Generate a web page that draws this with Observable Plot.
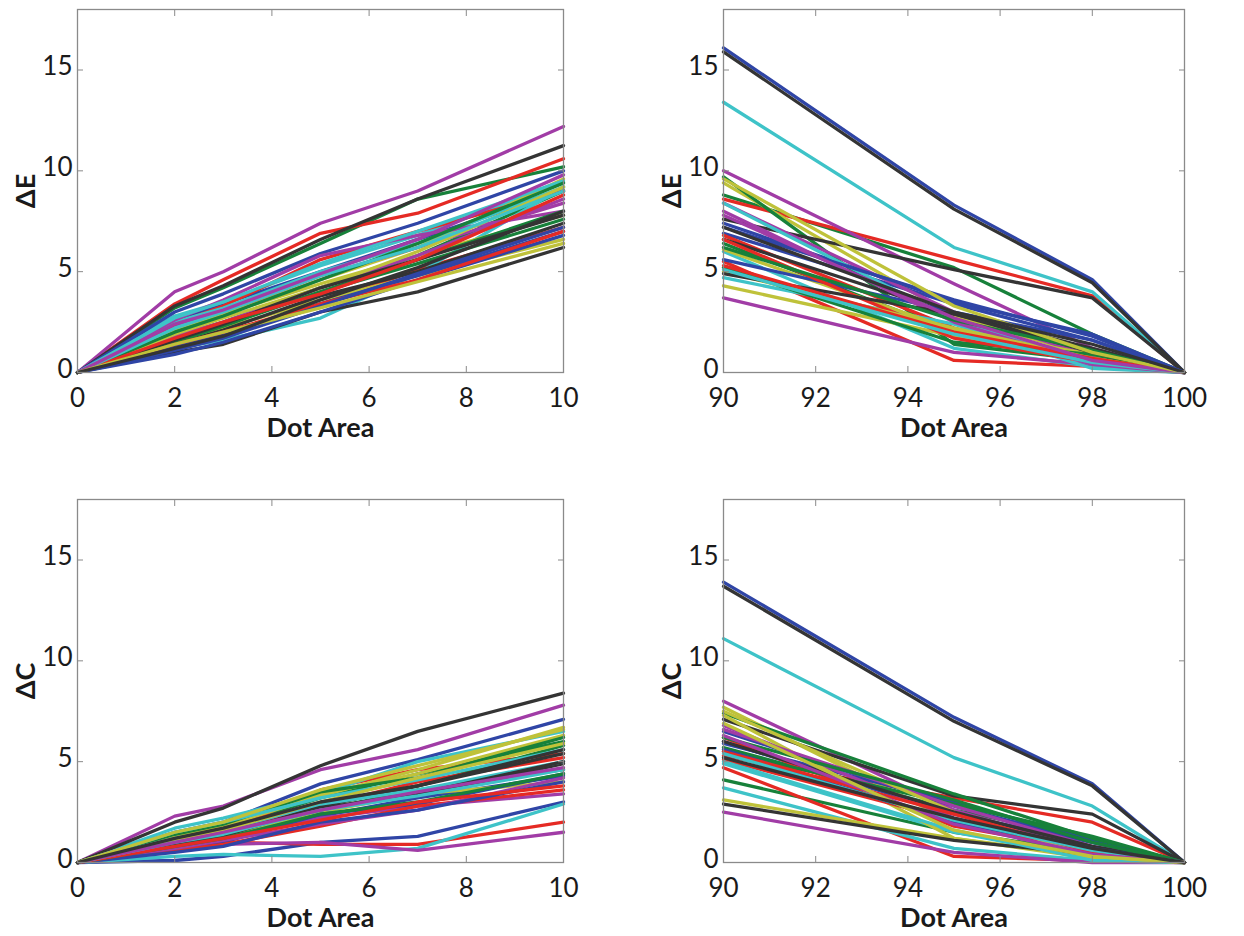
<!DOCTYPE html>
<html><head><meta charset="utf-8">
<script src="https://cdn.jsdelivr.net/npm/d3@7"></script>
<script src="https://cdn.jsdelivr.net/npm/@observablehq/plot@0.6"></script>
<style>
body{margin:0;background:#fff;}
#wrap{position:relative;width:1244px;height:936px;background:#fff;}
.panel{position:absolute;}
g[aria-label="x-axis label"], g[aria-label="y-axis label"]{font-weight:bold;font-size:27px;}
</style>
</head><body><div id="wrap"></div>
<script>
// ---- data ----
const xLow = [0, 2, 3, 5, 7, 10];
const xHigh = [90, 95, 98, 100];
const xTicksLow = [0, 2, 4, 6, 8, 10];
const xTicksHigh = [90, 92, 94, 96, 98, 100];
const yTicks = [0, 5, 10, 15];
const palette = ["#2f45a6", "#17813a", "#e52a24", "#3ec3c8", "#a13ca6", "#bfc23a", "#343434"];

const dELow = [
  [0,2.6,3.4,5.0,6.6,9.0],[0,3.2,4.2,6.4,8.6,10.2],[0,3.4,4.6,6.9,7.9,10.6],[0,2.8,3.5,5.3,6.8,9.4],
  [0,4.0,5.0,7.4,9.0,12.2],[0,2.2,2.9,4.6,6.2,9.6],[0,3.3,4.3,6.6,8.6,11.25],[0,3.0,3.9,5.9,7.4,10.0],
  [0,1.8,2.5,4.2,5.8,9.0],[0,1.9,1.9,3.4,5.1,7.2],[0,1.2,1.6,2.7,4.9,9.2],[0,2.3,3.0,4.8,6.2,8.4],
  [0,1.6,2.2,3.6,4.8,6.6],[0,1.0,1.4,3.0,4.0,6.2],[0,0.9,1.5,3.0,4.6,6.8],[0,1.6,2.4,4.0,5.4,7.6],
  [0,2.4,3.3,5.6,7.0,9.0],[0,2.5,3.2,5.0,6.4,9.2],[0,2.6,3.6,5.8,6.8,8.0],[0,2.1,2.9,4.4,5.8,7.8],
  [0,1.4,2.1,3.8,5.0,7.4],[0,1.3,1.9,3.4,4.8,7.0],[0,1.5,2.3,4.0,5.6,8.0],[0,1.4,2.0,3.4,4.6,7.0],
  [0,2.7,3.5,5.4,7.0,9.5],[0,1.8,2.5,4.2,5.8,8.6],[0,1.9,2.7,4.2,6.0,9.2],[0,1.6,2.4,4.2,5.6,7.8],
  [0,1.1,1.7,3.3,4.9,7.2],[0,2.0,2.8,4.6,6.4,9.4],[0,1.7,2.5,3.9,5.6,8.8],[0,2.2,3.0,4.8,6.2,9.0],
  [0,2.4,3.1,4.9,6.6,9.8],[0,1.4,2.0,3.2,4.5,6.4],[0,1.2,1.8,3.6,5.2,8.0]
];
const dEHigh = [
  [16.1,8.3,4.6,0],[8.8,5.2,1.9,0],[8.6,5.6,3.8,0],[13.4,6.2,4.0,0],[10.0,4.4,1.2,0],[9.4,2.8,0.8,0],
  [15.9,8.1,4.45,0],[7.4,3.5,1.9,0],[9.7,1.4,0.6,0],[5.5,0.6,0.3,0],[6.0,1.2,0.3,0],[3.7,1.0,0.4,0],
  [4.3,1.8,0.6,0],[7.6,5.1,3.7,0],[6.9,3.4,1.6,0],[6.4,2.0,0.9,0],[6.8,2.2,0.5,0],[4.7,2.4,0.2,0],
  [8.4,3.0,0.8,0],[6.1,2.1,0.9,0],[6.6,2.9,1.2,0],[5.6,3.0,1.6,0],[5.2,1.5,0.9,0],[6.6,1.7,0.5,0],
  [8.4,2.6,0.4,0],[8.0,2.5,0.4,0],[5.0,2.2,0.7,0],[4.9,2.9,1.0,0],[7.2,3.6,1.8,0],[6.2,2.6,1.1,0],
  [5.3,2.0,0.7,0],[5.1,1.9,0.5,0],[7.8,2.7,0.6,0],[9.6,3.3,1.0,0],[7.2,3.0,1.4,0]
];
const dCLow = [
  [0,1.5,2.0,3.9,5.1,7.1],[0,1.2,1.7,3.2,4.4,6.0],[0,1.0,1.5,3.6,4.6,5.4],[0,1.7,2.2,3.4,5.0,6.5],
  [0,2.3,2.8,4.6,5.6,7.8],[0,1.3,1.8,3.3,4.6,6.7],[0,2.0,2.7,4.8,6.5,8.4],[0,0.1,0.3,1.0,1.3,3.0],
  [0,1.0,1.5,2.8,3.8,5.8],[0,0.7,1.0,0.9,0.9,2.0],[0,0.3,0.4,0.3,0.7,2.9],[0,0.6,0.9,1.0,0.6,1.5],
  [0,1.4,1.9,3.4,4.4,6.3],[0,1.0,1.3,2.7,3.3,4.9],[0,0.8,1.2,2.3,3.2,4.3],[0,1.4,1.9,3.5,4.2,6.2],
  [0,1.1,1.6,2.8,4.0,5.2],[0,1.5,2.0,3.2,4.1,5.6],[0,0.9,1.2,2.2,2.8,3.4],[0,0.9,1.3,2.5,3.4,4.0],
  [0,0.8,1.3,2.8,3.8,5.6],[0,0.7,1.0,2.4,2.9,4.4],[0,1.1,1.5,2.6,3.6,4.6],[0,0.6,0.9,1.8,2.8,3.6],
  [0,1.2,1.6,2.9,3.6,5.0],[0,0.7,1.1,1.9,2.6,4.2],[0,1.1,1.6,3.0,4.2,5.9],[0,0.9,1.4,2.7,3.4,5.0],
  [0,0.5,0.8,2.0,2.6,4.0],[0,0.8,1.2,2.4,3.0,4.4],[0,0.8,1.2,2.1,3.0,3.8],[0,1.0,1.4,2.6,3.3,4.6],
  [0,1.0,1.5,2.6,3.5,4.7],[0,1.5,2.0,3.6,4.8,6.6],[0,1.2,1.7,3.0,3.8,5.4]
];
const dCHigh = [
  [13.9,7.2,3.9,0],[5.7,2.6,1.2,0],[5.3,3.2,2.0,0],[11.1,5.2,2.8,0],[8.0,2.6,0.6,0],[7.7,2.0,0.4,0],
  [13.7,7.0,3.8,0],[6.0,2.4,1.0,0],[4.1,1.5,0.5,0],[4.7,0.3,0.1,0],[3.7,0.7,0.1,0],[2.5,0.5,0.0,0],
  [3.1,1.2,0.3,0],[7.1,3.3,2.4,0],[5.9,3.0,1.1,0],[7.4,3.4,1.2,0],[6.2,1.8,0.6,0],[4.9,1.5,0.2,0],
  [6.8,2.2,0.5,0],[7.3,1.2,0.2,0],[2.9,1.1,0.4,0],[6.5,2.8,1.0,0],[5.5,2.9,1.3,0],[5.1,2.1,0.6,0],
  [5.0,1.6,0.1,0],[6.6,2.8,0.8,0],[7.5,2.5,0.3,0],[6.0,2.5,0.8,0],[5.6,2.0,0.7,0],[6.2,3.1,1.0,0],
  [5.5,2.4,0.5,0],[5.4,2.1,0.6,0],[6.3,1.9,0.4,0],[6.9,1.6,0.3,0],[5.2,2.2,0.7,0]
];

// ---- drawing ----
const axisGray = "#8a8a8a";
function panel(xs, series, xDomain, xTicks, yLabel, left, top, mLeft, mRight) {
  const rows = [];
  series.forEach((s, i) => s.forEach((v, j) => rows.push({x: xs[j], y: v, id: i, color: palette[i % palette.length]})));
  const noText = () => "";
  const p = Plot.plot({
    width: 600, height: 446,
    marginLeft: mLeft, marginRight: mRight, marginTop: 9, marginBottom: 74,
    style: {fontFamily: "Lato, 'Open Sans', sans-serif", fontSize: "26px", color: "#1a1a1a", background: "transparent", overflow: "visible"},
    x: {domain: xDomain},
    y: {domain: [0, 18]},
    color: {type: "identity"},
    marks: [
      Plot.line(rows, {x: "x", y: "y", z: "id", stroke: "color", strokeWidth: 3.3, strokeLinejoin: "round"}),
      Plot.frame({stroke: axisGray, strokeWidth: 1.3}),
      Plot.axisX({anchor: "bottom", ticks: xTicks, tickSize: -6, tickFormat: noText, stroke: axisGray, label: null}),
      Plot.axisX({anchor: "top", ticks: xTicks, tickSize: -6, tickFormat: noText, stroke: axisGray, label: null}),
      Plot.axisY({anchor: "left", ticks: yTicks, tickSize: -6, tickFormat: noText, stroke: axisGray, label: null}),
      Plot.axisY({anchor: "right", ticks: yTicks, tickSize: -6, tickFormat: noText, stroke: axisGray, label: null}),
      Plot.axisX({anchor: "bottom", ticks: xTicks, tickSize: 0, tickPadding: 16, label: "Dot Area", labelAnchor: "center", labelArrow: "none", labelOffset: 64}),
      Plot.axisY({anchor: "left", ticks: yTicks, tickSize: 0, tickPadding: 5, dy: -3, label: yLabel, labelAnchor: "center", labelArrow: "none", labelOffset: 62})
    ]
  });
  const d = document.createElement("div");
  d.className = "panel";
  d.style.left = left + "px";
  d.style.top = top + "px";
  d.appendChild(p);
  document.getElementById("wrap").appendChild(d);
}
panel(xLow, dELow, [0, 10], xTicksLow, "ΔE", 0, 0, 77, 37);
panel(xHigh, dEHigh, [90, 100], xTicksHigh, "ΔE", 622, 0, 101, 38);
panel(xLow, dCLow, [0, 10], xTicksLow, "ΔC", 0, 490, 77, 37);
panel(xHigh, dCHigh, [90, 100], xTicksHigh, "ΔC", 622, 490, 101, 38);
</script>
</body></html>
